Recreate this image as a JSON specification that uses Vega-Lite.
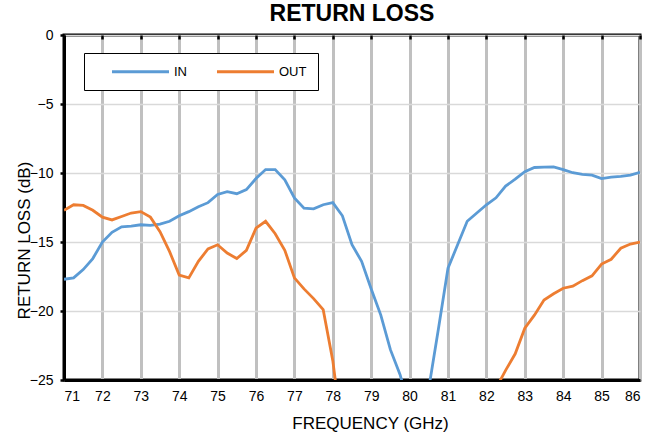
{
  "$schema": "https://vega.github.io/schema/vega-lite/v6.json",
  "width": 576,
  "height": 345,
  "autosize": {"type": "none"},
  "padding": {"left": 64, "top": 35, "right": 21, "bottom": 55},
  "background": "white",
  "config": {
    "font": "Liberation Sans",
    "view": {"stroke": "black", "strokeWidth": 3},
    "axis": {"labelFont": "Liberation Sans", "titleFont": "Liberation Sans", "labelColor": "black", "titleColor": "black", "titleFontWeight": "normal"}
  },
  "title": {"text": "RETURN LOSS", "fontSize": 23, "fontWeight": "bold", "font": "Liberation Sans", "color": "black", "anchor": "middle", "offset": 2},
  "data": {"values": [
    {"f":71,"rl":-17.7,"s":"IN"},{"f":71.25,"rl":-17.6,"s":"IN"},{"f":71.5,"rl":-17.0,"s":"IN"},{"f":71.75,"rl":-16.2,"s":"IN"},
    {"f":72,"rl":-15.0,"s":"IN"},{"f":72.25,"rl":-14.3,"s":"IN"},{"f":72.5,"rl":-13.9,"s":"IN"},{"f":72.75,"rl":-13.85,"s":"IN"},
    {"f":73,"rl":-13.75,"s":"IN"},{"f":73.25,"rl":-13.8,"s":"IN"},{"f":73.5,"rl":-13.7,"s":"IN"},{"f":73.75,"rl":-13.5,"s":"IN"},
    {"f":74,"rl":-13.1,"s":"IN"},{"f":74.25,"rl":-12.8,"s":"IN"},{"f":74.5,"rl":-12.45,"s":"IN"},{"f":74.75,"rl":-12.15,"s":"IN"},
    {"f":75,"rl":-11.55,"s":"IN"},{"f":75.25,"rl":-11.35,"s":"IN"},{"f":75.5,"rl":-11.5,"s":"IN"},{"f":75.75,"rl":-11.2,"s":"IN"},
    {"f":76,"rl":-10.4,"s":"IN"},{"f":76.25,"rl":-9.75,"s":"IN"},{"f":76.5,"rl":-9.75,"s":"IN"},{"f":76.75,"rl":-10.5,"s":"IN"},
    {"f":77,"rl":-11.8,"s":"IN"},{"f":77.25,"rl":-12.55,"s":"IN"},{"f":77.5,"rl":-12.6,"s":"IN"},{"f":77.75,"rl":-12.3,"s":"IN"},
    {"f":78,"rl":-12.15,"s":"IN"},{"f":78.25,"rl":-13.1,"s":"IN"},{"f":78.5,"rl":-15.2,"s":"IN"},{"f":78.75,"rl":-16.4,"s":"IN"},
    {"f":79,"rl":-18.4,"s":"IN"},{"f":79.25,"rl":-20.3,"s":"IN"},{"f":79.5,"rl":-22.8,"s":"IN"},{"f":79.75,"rl":-24.6,"s":"IN"},
    {"f":80,"rl":-27,"s":"IN"},{"f":80.25,"rl":-28,"s":"IN"},{"f":80.5,"rl":-25.6,"s":"IN"},{"f":80.75,"rl":-21.3,"s":"IN"},
    {"f":81,"rl":-16.9,"s":"IN"},{"f":81.25,"rl":-15.2,"s":"IN"},{"f":81.5,"rl":-13.5,"s":"IN"},{"f":81.75,"rl":-12.9,"s":"IN"},
    {"f":82,"rl":-12.3,"s":"IN"},{"f":82.25,"rl":-11.8,"s":"IN"},{"f":82.5,"rl":-10.95,"s":"IN"},{"f":82.75,"rl":-10.45,"s":"IN"},
    {"f":83,"rl":-9.9,"s":"IN"},{"f":83.25,"rl":-9.6,"s":"IN"},{"f":83.5,"rl":-9.58,"s":"IN"},{"f":83.75,"rl":-9.55,"s":"IN"},
    {"f":84,"rl":-9.75,"s":"IN"},{"f":84.25,"rl":-9.98,"s":"IN"},{"f":84.5,"rl":-10.1,"s":"IN"},{"f":84.75,"rl":-10.15,"s":"IN"},
    {"f":85,"rl":-10.4,"s":"IN"},{"f":85.25,"rl":-10.3,"s":"IN"},{"f":85.5,"rl":-10.25,"s":"IN"},{"f":85.75,"rl":-10.15,"s":"IN"},
    {"f":86,"rl":-9.95,"s":"IN"},
    {"f":71,"rl":-12.7,"s":"OUT"},{"f":71.25,"rl":-12.3,"s":"OUT"},{"f":71.5,"rl":-12.35,"s":"OUT"},{"f":71.75,"rl":-12.7,"s":"OUT"},
    {"f":72,"rl":-13.2,"s":"OUT"},{"f":72.25,"rl":-13.4,"s":"OUT"},{"f":72.5,"rl":-13.15,"s":"OUT"},{"f":72.75,"rl":-12.9,"s":"OUT"},
    {"f":73,"rl":-12.8,"s":"OUT"},{"f":73.25,"rl":-13.2,"s":"OUT"},{"f":73.5,"rl":-14.25,"s":"OUT"},{"f":73.75,"rl":-15.7,"s":"OUT"},
    {"f":74,"rl":-17.4,"s":"OUT"},{"f":74.25,"rl":-17.6,"s":"OUT"},{"f":74.5,"rl":-16.4,"s":"OUT"},{"f":74.75,"rl":-15.5,"s":"OUT"},
    {"f":75,"rl":-15.2,"s":"OUT"},{"f":75.25,"rl":-15.8,"s":"OUT"},{"f":75.5,"rl":-16.2,"s":"OUT"},{"f":75.75,"rl":-15.6,"s":"OUT"},
    {"f":76,"rl":-14.0,"s":"OUT"},{"f":76.25,"rl":-13.5,"s":"OUT"},{"f":76.5,"rl":-14.4,"s":"OUT"},{"f":76.75,"rl":-15.6,"s":"OUT"},
    {"f":77,"rl":-17.6,"s":"OUT"},{"f":77.25,"rl":-18.4,"s":"OUT"},{"f":77.5,"rl":-19.1,"s":"OUT"},{"f":77.75,"rl":-19.9,"s":"OUT"},
    {"f":78,"rl":-23.6,"s":"OUT"},{"f":78.25,"rl":-29,"s":"OUT"},{"f":82,"rl":-27,"s":"OUT"},{"f":82.25,"rl":-25.6,"s":"OUT"},
    {"f":82.5,"rl":-24.3,"s":"OUT"},{"f":82.75,"rl":-23.1,"s":"OUT"},{"f":83,"rl":-21.25,"s":"OUT"},{"f":83.25,"rl":-20.3,"s":"OUT"},
    {"f":83.5,"rl":-19.2,"s":"OUT"},{"f":83.75,"rl":-18.75,"s":"OUT"},{"f":84,"rl":-18.35,"s":"OUT"},{"f":84.25,"rl":-18.2,"s":"OUT"},
    {"f":84.5,"rl":-17.8,"s":"OUT"},{"f":84.75,"rl":-17.45,"s":"OUT"},{"f":85,"rl":-16.6,"s":"OUT"},{"f":85.25,"rl":-16.25,"s":"OUT"},
    {"f":85.5,"rl":-15.45,"s":"OUT"},{"f":85.75,"rl":-15.15,"s":"OUT"},{"f":86,"rl":-15.0,"s":"OUT"}
  ]},
  "layer": [
    {
      "mark": {"type": "point", "opacity": 0},
      "encoding": {
        "x": {"field": "f", "type": "quantitative", "scale": {"domain": [71, 86], "nice": false, "zero": false},
          "axis": {"orient": "top", "labels": false, "title": null, "grid": false, "domain": false, "ticks": true, "tickSize": -4, "tickWidth": 2.5, "tickColor": "black", "values": [71,72,73,74,75,76,77,78,79,80,81,82,83,84,85,86]}}
      }
    },
    {
      "mark": {"type": "line", "strokeWidth": 2.8, "clip": true},
      "encoding": {
        "x": {"field": "f", "type": "quantitative", "scale": {"domain": [71, 86], "nice": false, "zero": false},
          "axis": {"orient": "bottom", "values": [71,72,73,74,75,76,77,78,79,80,81,82,83,84,85,86], "title": "FREQUENCY (GHz)", "titleFontSize": 17, "labelFontSize": 14, "labelPadding": 9,
            "titleX": 306, "titleY": 48, "titleAlign": "center", "titleBaseline": "alphabetic",
            "grid": true, "gridColor": "#c0c0c0", "gridWidth": 3, "domainColor": "black", "domainWidth": 3, "ticks": false}},
        "y": {"field": "rl", "type": "quantitative", "scale": {"domain": [-25, 0], "nice": false, "zero": false},
          "axis": {"values": [-25,-20,-15,-10,-5,0], "title": "RETURN LOSS (dB)", "titleFontSize": 17, "labelFontSize": 14, "labelPadding": 7,
            "titleX": -31, "titleY": 205, "titleAlign": "center", "titleBaseline": "bottom", "titleAngle": 270,
            "grid": true, "gridColor": "#d9d9d9", "gridWidth": 1.5, "domainColor": "black", "domainWidth": 3, "tickColor": "black", "tickSize": 4, "tickWidth": 2.5}},
        "color": {"field": "s", "type": "nominal", "scale": {"domain": ["IN", "OUT"], "range": ["#5B9BD5", "#ED7D31"]},
          "legend": {"title": null, "orient": "none", "legendX": 20, "legendY": 18, "direction": "horizontal", "fillColor": "white", "strokeColor": "black",
            "padding": 11, "symbolType": "M-5,0L5,0", "symbolSize": 130, "symbolStrokeWidth": 3, "labelFontSize": 13, "labelFont": "Liberation Sans", "labelColor": "black",
            "columnPadding": 13, "labelOffset": 26, "symbolOffset": 38}}
      }
    }
  ]
}
